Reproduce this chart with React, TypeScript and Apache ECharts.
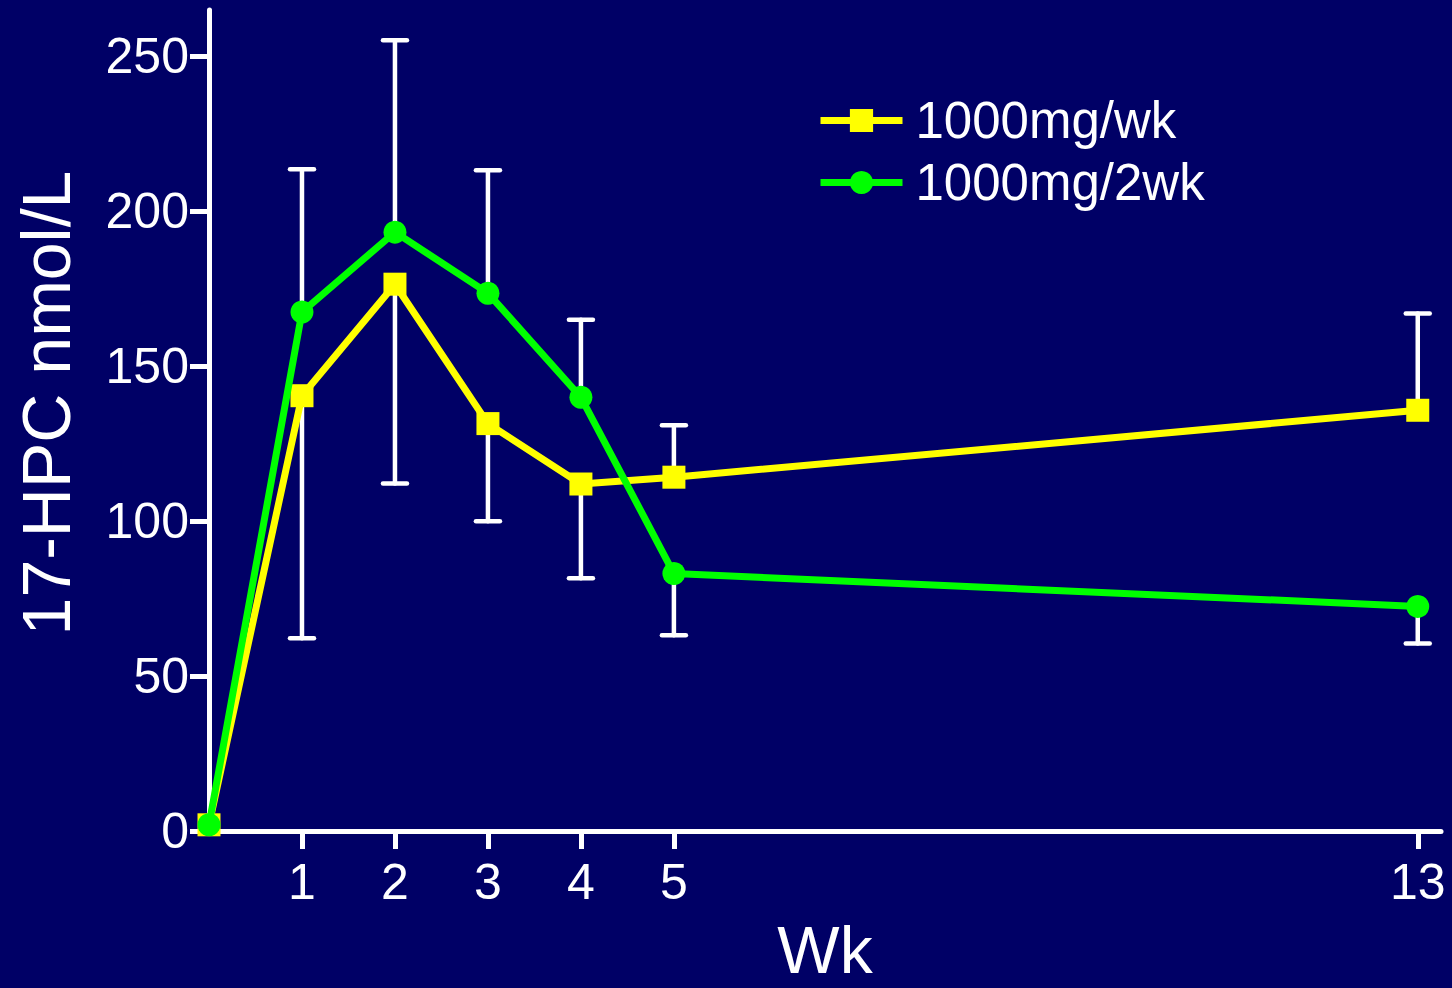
import React, { useEffect, useRef } from "react";
import * as echarts from "echarts";

const weeks = [0, 1, 2, 3, 4, 5, 13];
const weeklyValues = [2, 140.5, 176.5, 131.5, 112, 114.2, 135.8];
const biweeklyValues = [2, 167.5, 193.3, 173.6, 140, 83.1, 72.5];
// end points of the one-sided error bars
const weeklyErrEnd = [null, 62.2, 112.2, 100, 81.6, 131, 167];
const biweeklyErrEnd = [null, 213.6, 255.2, 213.3, 165, 63.2, 60.5];
const xTickValues = [1, 2, 3, 4, 5, 13];
const yTickValues = [0, 50, 100, 150, 200, 250];
const seriesNames = ["1000mg/wk", "1000mg/2wk"];

const FONT = "'Liberation Sans', Arial, Helvetica, sans-serif";
const BG = "#000066";

function buildErr(values: number[], ends: (number | null)[]) {
  const out: number[][] = [];
  for (let i = 0; i < weeks.length; i++) {
    const e = ends[i];
    if (e !== null && e !== undefined) out.push([weeks[i], values[i], e]);
  }
  return out;
}

const errRender = (params: any, api: any) => {
  const x = api.value(0);
  const p0 = api.coord([x, api.value(1)]);
  const p1 = api.coord([x, api.value(2)]);
  const half = 12;
  const style = { stroke: "#ffffff", lineWidth: 4.5, lineCap: "round" };
  return {
    type: "group",
    children: [
      { type: "line", shape: { x1: p0[0], y1: p0[1], x2: p1[0], y2: p1[1] }, style },
      { type: "line", shape: { x1: p1[0] - half, y1: p1[1], x2: p1[0] + half, y2: p1[1] }, style },
    ],
  };
};

export default function App() {
  const ref = useRef<HTMLDivElement>(null);
  useEffect(() => {
    if (!ref.current) return;
    const chart = echarts.init(ref.current, undefined, { renderer: "svg" });
    chart.setOption({
      animation: false,
      backgroundColor: BG,
      textStyle: { fontFamily: FONT },
      grid: { left: 209, right: 11, top: 10, bottom: 157, containLabel: false, outerBoundsMode: "none" },
      legend: {
        orient: "vertical",
        left: 817,
        top: 95,
        padding: 0,
        itemWidth: 82,
        itemHeight: 29,
        itemGap: 11,
        lineStyle: { width: 7 },
        textStyle: { color: "#ffffff", fontSize: 51, fontFamily: FONT, lineHeight: 50, padding: [0, 0, 0, 8] },
        data: seriesNames,
      },
      xAxis: {
        type: "value",
        min: 0,
        max: 13.25,
        name: "Wk",
        nameLocation: "middle",
        nameGap: 86,
        nameTextStyle: { color: "#ffffff", fontSize: 66, lineHeight: 66, fontFamily: FONT },
        axisLine: { show: true, onZero: false, lineStyle: { color: "#ffffff", width: 5, cap: "round" } },
        axisTick: { show: true, length: 18, lineStyle: { color: "#ffffff", width: 5 }, customValues: xTickValues },
        axisLabel: { color: "#ffffff", fontSize: 50, fontFamily: FONT, margin: 26, customValues: xTickValues },
        splitLine: { show: false },
      },
      yAxis: {
        type: "value",
        min: 0,
        max: 265,
        axisLine: { show: true, onZero: false, lineStyle: { color: "#ffffff", width: 5, cap: "round" } },
        axisTick: { show: true, length: 19, lineStyle: { color: "#ffffff", width: 5 }, customValues: yTickValues },
        axisLabel: { color: "#ffffff", fontSize: 50, fontFamily: FONT, margin: 20, customValues: yTickValues },
        splitLine: { show: false },
      },
      graphic: [
        {
          type: "text",
          x: 46,
          y: 403,
          rotation: Math.PI / 2,
          style: {
            text: "17-HPC nmol/L",
            fill: "#ffffff",
            font: `68px ${FONT}`,
            align: "center",
            verticalAlign: "middle",
          },
        },
      ],
      series: [
        {
          type: "custom",
          name: "err1",
          renderItem: errRender,
          data: buildErr(weeklyValues, weeklyErrEnd),
          z: 1,
          silent: true,
          clip: false,
        },
        {
          type: "custom",
          name: "err2",
          renderItem: errRender,
          data: buildErr(biweeklyValues, biweeklyErrEnd),
          z: 1,
          silent: true,
          clip: false,
        },
        {
          type: "line",
          name: seriesNames[0],
          data: weeks.map((w, i) => [w, weeklyValues[i]]),
          symbol: "rect",
          symbolSize: 23,
          showAllSymbol: true,
          clip: false,
          z: 3,
          lineStyle: { color: "#ffff00", width: 7 },
          itemStyle: { color: "#ffff00" },
        },
        {
          type: "line",
          name: seriesNames[1],
          data: weeks.map((w, i) => [w, biweeklyValues[i]]),
          symbol: "circle",
          symbolSize: 23,
          showAllSymbol: true,
          clip: false,
          z: 4,
          lineStyle: { color: "#00ff00", width: 7 },
          itemStyle: { color: "#00ff00" },
        },
      ],
    });
    return () => chart.dispose();
  }, []);
  return (
    <div
      ref={ref}
      style={{ position: "fixed", left: 0, top: 0, width: 1452, height: 988 }}
    />
  );
}
